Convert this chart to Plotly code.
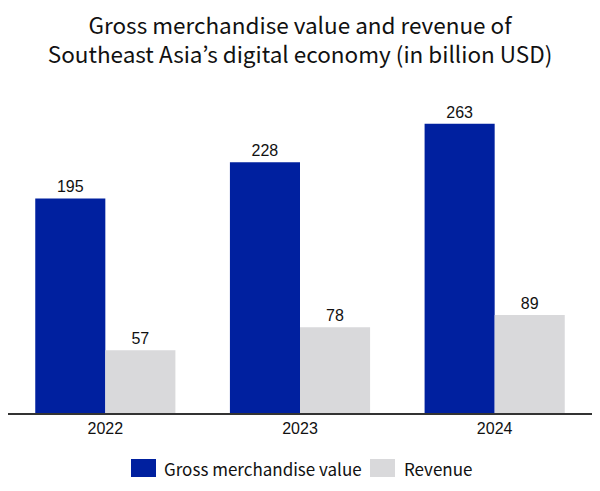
import plotly.graph_objects as go

years = ["2022", "2023", "2024"]
gmv = [195, 228, 263]
revenue = [57, 78, 89]
series_names = ["Gross merchandise value", "Revenue"]
series_colors = ["#00209F", "#D9D9DB"]

title_font = "Noto Sans CJK KR"
num_font = "Liberation Sans, Arial"

fig = go.Figure()
for name, vals, col in zip(series_names, [gmv, revenue], series_colors):
    fig.add_trace(go.Bar(
        x=years, y=vals, name=name,
        marker=dict(color=col, line=dict(width=0)),
        text=vals, textposition="outside", cliponaxis=False,
        textfont=dict(family=num_font, size=16, color="#111111"),
        showlegend=False,
    ))

# manual legend with larger swatches; coords are screen px (page body has an 8px margin)
W, H, L, B = 584.0, 313.0, 8, 413
def px(x):
    return (x - L) / W
def py(y):
    return (B - y) / H

legend_items = [(131, 156, 162), (370, 395, 402)]
for (x0, x1, tx), name, col in zip(legend_items, series_names, series_colors):
    fig.add_shape(type="rect", xref="paper", yref="paper",
                  x0=px(x0), x1=px(x1), y0=py(477), y1=py(459),
                  fillcolor=col, line=dict(width=0))
    fig.add_annotation(xref="paper", yref="paper", x=px(tx), y=py(468),
                       xanchor="left", yanchor="middle", showarrow=False,
                       text=name, font=dict(family=title_font, size=17, color="#111111"))

fig.update_layout(
    width=600, height=491,
    paper_bgcolor="white", plot_bgcolor="white",
    barmode="group", bargap=0.28, bargroupgap=0,
    margin=dict(l=0, r=16, t=92, b=86, autoexpand=False),
    title=dict(
        text="Gross merchandise value and revenue of<br>Southeast Asia’s digital economy (in billion USD)",
        x=0.5 - 8 / 600, xanchor="center", y=1 - 26 / 491, yanchor="middle",
        font=dict(family=title_font, size=22.5, color="#111111"),
    ),
    xaxis=dict(
        showline=True, linecolor="#333333", linewidth=1.5,
        ticks="", tickfont=dict(family=num_font, size=16, color="#111111"),
        showgrid=False,
    ),
    yaxis=dict(range=[0, 284.5], visible=False, showgrid=False),
    showlegend=False,
)

fig.write_html("out.html")
